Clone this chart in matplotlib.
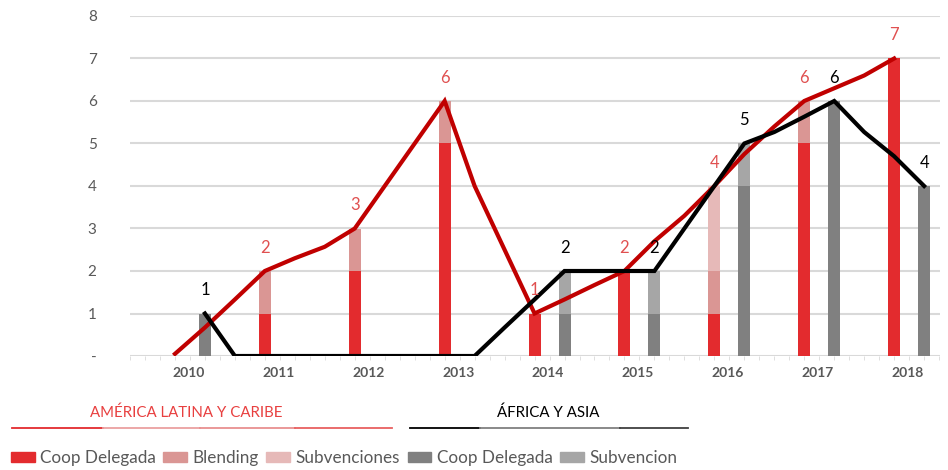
import matplotlib
matplotlib.use("Agg")
import matplotlib.pyplot as plt
from matplotlib.patches import Patch
from matplotlib.lines import Line2D
import numpy as np

years = [2010, 2011, 2012, 2013, 2014, 2015, 2016, 2017, 2018]

# America Latina y Caribe (barras rojas)
latam_coop = [0, 1, 2, 5, 1, 2, 1, 5, 7]
latam_blend = [0, 1, 1, 1, 0, 0, 1, 1, 0]
latam_subv = [0, 0, 0, 0, 0, 0, 2, 0, 0]

# Africa y Asia (barras grises)
afr_coop = [1, 0, 0, 0, 1, 1, 4, 6, 4]
afr_subv = [0, 0, 0, 0, 1, 1, 1, 0, 0]

latam_line = [0.05, 0.67, 1.33, 2, 2.3, 2.57, 3, 4, 5, 6, 4, 2.5, 1, 1.33, 1.67,
              2, 2.7, 3.3, 4, 4.75, 5.4, 6, 6.3, 6.6, 7]
afr_line = [1, 0, 0, 0, 0, 0, 0, 0, 0, 0, 0.67, 1.33, 2, 2, 2, 2, 3, 4, 5,
            5.27, 5.63, 6, 5.27, 4.7, 4]

c_red, c_blend, c_subv = "#E32B2E", "#DA9694", "#E6B9B8"
c_dgray, c_lgray = "#808080", "#A6A6A6"
c_tick = "#595959"
fam = "Lato"

fig = plt.figure(figsize=(9.48, 4.70), dpi=100)
ax = fig.add_axes([130 / 948, 1 - 356 / 470, 810 / 948, 340 / 470])

red_x = np.arange(len(years)) * 3
gray_x = red_x + 1
w = 0.4

b1 = np.array(latam_coop)
b2 = b1 + np.array(latam_blend)
ax.bar(red_x, latam_coop, width=w, color=c_red, zorder=2)
ax.bar(red_x, latam_blend, width=w, bottom=b1, color=c_blend, zorder=2)
ax.bar(red_x, latam_subv, width=w, bottom=b2, color=c_subv, zorder=2)
ax.bar(gray_x, afr_coop, width=w, color=c_dgray, zorder=2)
ax.bar(gray_x, afr_subv, width=w, bottom=afr_coop, color=c_lgray, zorder=2)

ax.plot(np.arange(len(latam_line)), latam_line, color="#C00000", lw=3,
        solid_joinstyle="miter", zorder=3)
ax.plot(np.arange(1, len(afr_line) + 1), afr_line, color="black", lw=3,
        solid_joinstyle="miter", zorder=4)

# etiquetas de totales
latam_tot = b2 + np.array(latam_subv)
afr_tot = np.array(afr_coop) + np.array(afr_subv)
for x, t in zip(red_x, latam_tot):
    if t > 0:
        ax.text(x, t + 0.55, str(t), ha="center", va="center", fontsize=12,
                color="#E05050", family=fam, zorder=5)
for x, t in zip(gray_x, afr_tot):
    if t > 0:
        ax.text(x, t + 0.55, str(t), ha="center", va="center", fontsize=12,
                color="black", family=fam, zorder=5)

ax.set_xlim(-1.47, 25.53)
ax.set_ylim(0, 8)
for s in ax.spines.values():
    s.set_visible(False)
ax.set_yticks(range(9))
ax.set_yticklabels(["-"] + [str(i) for i in range(1, 9)], fontsize=11,
                   color=c_tick, family=fam)
ax.tick_params(axis="y", length=0, pad=24)
ax.yaxis.grid(True, color="#D9D9D9", lw=1.5, zorder=0)
ax.set_axisbelow(True)

ax.set_xticks(red_x + 0.45)
ax.set_xticklabels(years, fontsize=10, color=c_tick, fontweight="bold",
                   family=fam)
ax.tick_params(axis="x", length=0, pad=8)
ax.set_xticks(np.arange(-1.5, 25.6, 0.5), minor=True)
ax.tick_params(axis="x", which="minor", length=3, color="#D9D9D9")

# cabeceras de la leyenda
fig.text(186 / 948, 1 - 413 / 470, "AMÉRICA LATINA Y CARIBE", ha="center",
         va="center", fontsize=10.8, color="#E84040", family=fam)
fig.text(548 / 948, 1 - 413 / 470, "ÁFRICA Y ASIA", ha="center",
         va="center", fontsize=10.8, color="black", family=fam)
red_seg = [(12, 103, "#E32B2E"), (103, 200, "#EBA0A0"), (200, 295, "#E89090"),
           (295, 392, "#E86060")]
for x0, x1, c in red_seg:
    fig.add_artist(Line2D([x0 / 948, x1 / 948], [1 - 428 / 470] * 2,
                          color=c, lw=1.3))
blk_seg = [(410, 480, "black"), (480, 620, "#808080"), (620, 688, "#404040")]
for x0, x1, c in blk_seg:
    fig.add_artist(Line2D([x0 / 948, x1 / 948], [1 - 428 / 470] * 2,
                          color=c, lw=1.3))

handles = [Patch(color=c_red, label="Coop Delegada"),
           Patch(color=c_blend, label="Blending"),
           Patch(color=c_subv, label="Subvenciones"),
           Patch(color=c_dgray, label="Coop Delegada"),
           Patch(color=c_lgray, label="Subvencion")]
leg = fig.legend(handles=handles, ncol=5, loc="center left",
                 bbox_to_anchor=(4 / 948, 1 - 458 / 470), frameon=False,
                 handlelength=1.4, handleheight=0.55,
                 handletextpad=0.3, columnspacing=0.45, borderaxespad=0,
                 prop={"family": fam, "size": 12.3})
for t in leg.get_texts():
    t.set_color(c_tick)

fig.savefig("out.png", dpi=100)
